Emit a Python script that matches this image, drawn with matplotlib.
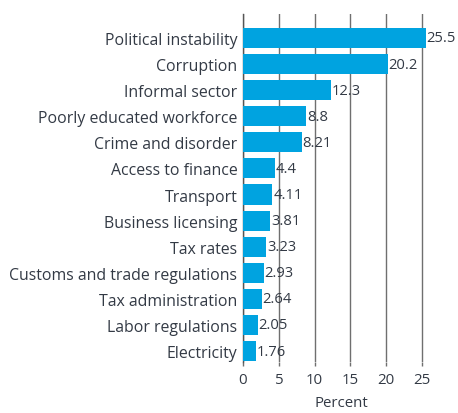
import matplotlib
matplotlib.use("Agg")
import matplotlib.pyplot as plt

categories = ["Political instability", "Corruption", "Informal sector",
              "Poorly educated workforce", "Crime and disorder", "Access to finance",
              "Transport", "Business licensing", "Tax rates",
              "Customs and trade regulations", "Tax administration",
              "Labor regulations", "Electricity"]
values = [25.5, 20.2, 12.3, 8.8, 8.21, 4.4, 4.11, 3.81, 3.23, 2.93, 2.64, 2.05, 1.76]
value_labels = ["25.5", "20.2", "12.3", "8.8", "8.21", "4.4", "4.11", "3.81",
                "3.23", "2.93", "2.64", "2.05", "1.76"]
xticks = [0, 5, 10, 15, 20, 25]

plt.rcParams['font.family'] = ['Open Sans', 'DejaVu Sans']
text_color = "#333a45"
fs = 11.4

fig = plt.figure(figsize=(4.58, 4.14), dpi=100)
W, H = 458, 414
left, right, top, bottom = 243, 440, 15, 363
ax = fig.add_axes([left / W, 1 - bottom / H, (right - left) / W, (bottom - top) / H])

y = list(range(len(categories)))
ax.barh(y, values, height=0.77, color="#00a3e0", zorder=3)
for yi, v, lab in zip(y, values, value_labels):
    ax.text(v + 0.1, yi, lab, va="center", ha="left", fontsize=10.6,
            color=text_color, zorder=4)

ax.set_ylim(12.42, -0.92)
ax.set_xlim(0, 27.5)
ax.set_yticks(y)
ax.set_yticklabels(categories, fontsize=fs, color=text_color)
ax.set_xticks(xticks)
ax.set_xticklabels([str(t) for t in xticks], fontsize=10.8, color=text_color)
ax.tick_params(axis="y", length=0, pad=4)
ax.tick_params(axis="x", length=3, width=1.0, color="#6f6f6f", pad=4)
ax.grid(axis="x", color="#6f6f6f", linewidth=1.0, zorder=1)
for s in ["top", "right", "bottom"]:
    ax.spines[s].set_visible(False)
ax.spines["left"].set_color("#555555")
ax.spines["left"].set_linewidth(1.0)
ax.set_xlabel("Percent", fontsize=10.8, color=text_color, labelpad=6)

fig.savefig("out.png", dpi=100)
